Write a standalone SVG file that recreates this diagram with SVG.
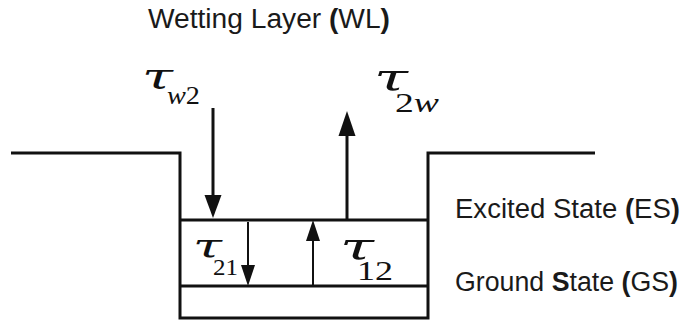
<svg xmlns="http://www.w3.org/2000/svg" width="686" height="325" viewBox="0 0 686 325">
<defs>
<style>
.lbl{font-family:"Liberation Sans",Arial,sans-serif;font-size:27px;fill:#1a1a1a}
.b{font-weight:bold}
.m{font-family:"Liberation Serif","Times New Roman",serif;fill:#111}
.t{font-family:"DejaVu Serif","Liberation Serif",serif;font-style:italic;fill:#111}
.i{font-style:italic}
.ln{stroke:#111;stroke-width:3;fill:none}
.ar{stroke:#111;stroke-width:3}
.ar2{stroke:#111;stroke-width:2}
</style>
</defs>
<rect width="686" height="325" fill="#fff"/>
<g id="well">
<polyline class="ln" points="11,153 180,153 180,318 428,318 428,153 595,153"/>
</g>
<g id="excited-state">
<line class="ln" x1="180" y1="220" x2="428" y2="220"/>
<text class="lbl" x="455" y="218" textLength="225" lengthAdjust="spacingAndGlyphs">Excited State <tspan class="b">(</tspan>ES<tspan class="b">)</tspan></text>
</g>
<g id="ground-state">
<line class="ln" x1="180" y1="286" x2="428" y2="286"/>
<text class="lbl" x="455" y="291" textLength="223" lengthAdjust="spacingAndGlyphs">Ground <tspan class="b">S</tspan>tate <tspan class="b">(</tspan>GS<tspan class="b">)</tspan></text>
</g>
<g id="wetting-layer">
<text class="lbl" x="148" y="28" textLength="242" lengthAdjust="spacingAndGlyphs">Wetting Layer <tspan class="b">(</tspan>WL<tspan class="b">)</tspan></text>
</g>
<g id="connectors">
<line class="ar" x1="213" y1="108" x2="213" y2="196"/>
<polygon points="204.5,195 221.5,195 213,218" fill="#111"/>
<line class="ar" x1="347" y1="220" x2="347" y2="134"/>
<polygon points="338.5,136 355.5,136 347,111" fill="#111"/>
<line class="ar2" x1="248" y1="222" x2="248" y2="267"/>
<polygon points="241,265 255,265 248,286" fill="#111"/>
<line class="ar2" x1="313" y1="286" x2="313" y2="240"/>
<polygon points="306,241 320,241 313,220" fill="#111"/>
</g>
<g id="tau-w2">
<text class="t" x="142" y="88" font-size="36" textLength="31" lengthAdjust="spacingAndGlyphs">τ</text>
<text class="m" x="167" y="104" font-size="26" textLength="33" lengthAdjust="spacingAndGlyphs"><tspan class="i">w</tspan>2</text>
</g>
<g id="tau-2w">
<text class="t" x="374" y="90" font-size="38" textLength="34" lengthAdjust="spacingAndGlyphs">τ</text>
<text class="m" x="395" y="112" font-size="28" textLength="44" lengthAdjust="spacingAndGlyphs">2<tspan class="i">w</tspan></text>
</g>
<g id="tau-21">
<text class="t" x="193" y="258" font-size="33" textLength="29" lengthAdjust="spacingAndGlyphs">τ</text>
<text class="m" x="213" y="275" font-size="23" textLength="25" lengthAdjust="spacingAndGlyphs">21</text>
</g>
<g id="tau-12">
<text class="t" x="340" y="259" font-size="38" textLength="34" lengthAdjust="spacingAndGlyphs">τ</text>
<text class="m" x="357" y="280" font-size="28" textLength="36" lengthAdjust="spacingAndGlyphs">12</text>
</g>
</svg>
